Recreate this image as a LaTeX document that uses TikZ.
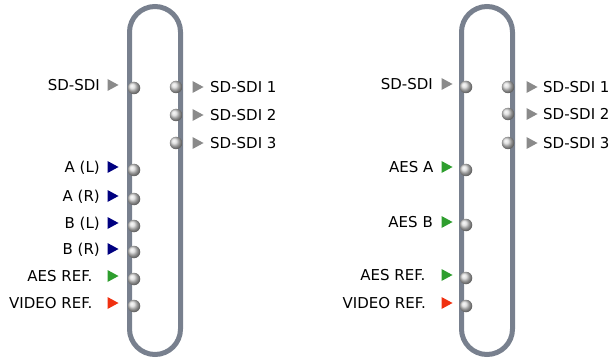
\documentclass[tikz,border=0pt]{standalone}
\usepackage{fontspec}
\setmainfont{DejaVu Sans}
\usetikzlibrary{positioning}
\definecolor{capgray}{RGB}{120,128,142}
\definecolor{portgray}{RGB}{138,138,138}
\definecolor{portblue}{RGB}{0,0,128}
\definecolor{portgreen}{RGB}{46,158,46}
\definecolor{portred}{RGB}{240,48,16}

\tikzset{
  capsule/.style={draw=capgray, line width=5pt, rounded corners=25.5pt},
  bulb/.style={circle, minimum size=12.5pt, inner sep=0pt, shading=ball, ball color=gray!30},
  lbl/.style={font=\fontsize{15}{17}\selectfont, inner sep=0pt, text height=11pt, text depth=0pt},
}

\begin{document}
\begin{tikzpicture}[x=1pt, y=-1pt]
  \useasboundingbox (0,0) rectangle (615,358);
  \def\ta{5.5};  % half width of a triangle
  \def\tb{6}; % half height of a triangle

  % the two cards
  \draw[capsule] (129.5,6.5) rectangle (180.5,354.5);
  \draw[capsule] (461.5,6.5) rectangle (512.5,354.5);

  % left card, inputs
  \foreach \y/\t/\c/\g [count=\i] in {88/SD-SDI/portgray/13pt, 170/A (L)/portblue/13pt,
      199/A (R)/portblue/13pt, 226/B (L)/portblue/13pt, 252/B (R)/portblue/13pt,
      279/AES REF./portgreen/20.5pt, 306/VIDEO REF./portred/20.5pt}{
    \node[bulb] (lin\i) at (134,\y) {};
    \coordinate (lint\i) at (113,{\y-3});
    \fill[\c] ([xshift=-\ta pt,yshift=\tb pt]lint\i) -- ([xshift=\ta pt]lint\i) -- ([xshift=-\ta pt,yshift=-\tb pt]lint\i) -- cycle;
    \node[lbl, left=\g of lint\i] (linl\i) {\t};
  }

  % left card, outputs
  \foreach \y [count=\i] in {87,115,143}{
    \node[bulb] (lout\i) at (176,\y) {};
    \coordinate (loutt\i) at (198,\y);
    \fill[portgray] ([xshift=-\ta pt,yshift=\tb pt]loutt\i) -- ([xshift=\ta pt]loutt\i) -- ([xshift=-\ta pt,yshift=-\tb pt]loutt\i) -- cycle;
    \node[lbl, right=12pt of loutt\i] (loutl\i) {SD-SDI \i};
  }

  % right card, inputs
  \foreach \y/\t/\c/\g [count=\i] in {87/SD-SDI/portgray/14pt, 170/AES A/portgreen/13.5pt,
      225/AES B/portgreen/14pt, 278/AES REF./portgreen/21.5pt, 306/VIDEO REF./portred/21pt}{
    \node[bulb] (rin\i) at (466,\y) {};
    \coordinate (rint\i) at (447,{\y-3});
    \fill[\c] ([xshift=-\ta pt,yshift=\tb pt]rint\i) -- ([xshift=\ta pt]rint\i) -- ([xshift=-\ta pt,yshift=-\tb pt]rint\i) -- cycle;
    \node[lbl, left=\g of rint\i] (rinl\i) {\t};
  }

  % right card, outputs
  \foreach \y [count=\i] in {87,114,143}{
    \node[bulb] (rout\i) at (508,\y) {};
    \coordinate (routt\i) at (532,\y);
    \fill[portgray] ([xshift=-\ta pt,yshift=\tb pt]routt\i) -- ([xshift=\ta pt]routt\i) -- ([xshift=-\ta pt,yshift=-\tb pt]routt\i) -- cycle;
    \node[lbl, right=11pt of routt\i] (routl\i) {SD-SDI \i};
  }
\end{tikzpicture}
\end{document}
